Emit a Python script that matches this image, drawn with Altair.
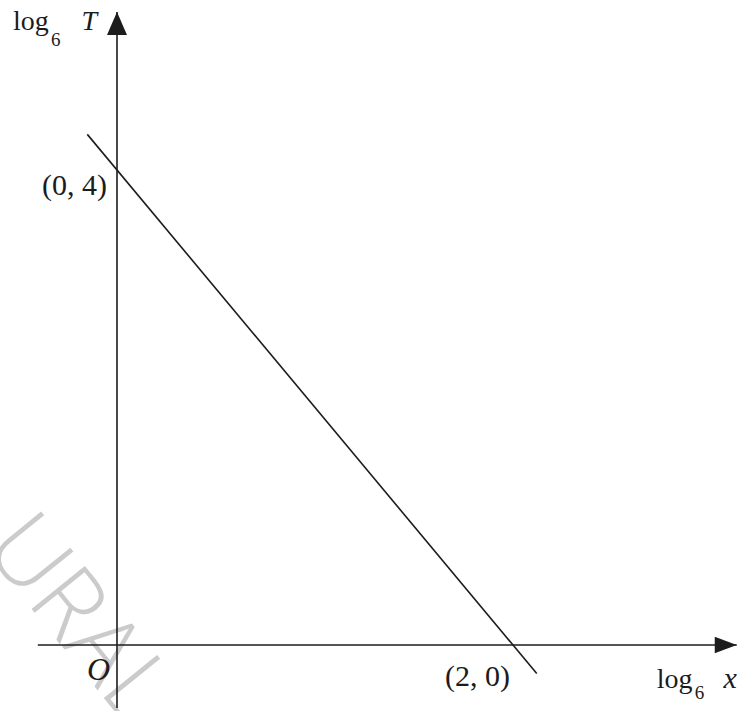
import altair as alt
import pandas as pd

# Straight line in the (log6 x, log6 T) plane
line_x = [-0.15, 2.12]
line_y = [4.30, -0.24]

# Axis intercepts marked on the graph
intercept_x = [0, 2]
intercept_y = [4, 0]
intercept_text = ["(0, 4)", "(2, 0)"]

# Extent of the drawn coordinate axes (shaft start, arrow tip)
x_axis_extent = [-0.40, 3.13]
y_axis_extent = [-0.53, 5.33]

INK = "#1c1c1c"
SERIF = "Liberation Serif"

xs = alt.Scale(domain=[-0.5909, 3.1566], nice=False, zero=False)
ys = alt.Scale(domain=[-0.5558, 5.4316], nice=False, zero=False)


def X(field="x"):
    return alt.X(f"{field}:Q", scale=xs, axis=None)


def Y(field="y"):
    return alt.Y(f"{field}:Q", scale=ys, axis=None)


line_df = pd.DataFrame({"x": line_x, "y": line_y})
xaxis_df = pd.DataFrame({"x": x_axis_extent, "y": [0, 0]})
yaxis_df = pd.DataFrame({"x": [0, 0], "y": y_axis_extent})
xtip_df = pd.DataFrame({"x": [x_axis_extent[1]], "y": [0]})
ytip_df = pd.DataFrame({"x": [0], "y": [y_axis_extent[1]]})
origin_df = pd.DataFrame({"x": [0], "y": [0], "t": ["O"]})
p04_df = pd.DataFrame({"x": [intercept_x[0]], "y": [intercept_y[0]], "t": [intercept_text[0]]})
p20_df = pd.DataFrame({"x": [intercept_x[1]], "y": [intercept_y[1]], "t": [intercept_text[1]]})

# faint diagonal watermark running off the left edge
watermark = alt.Chart(pd.DataFrame({"t": ["URAL"]})).mark_text(
    angle=51, fontSize=96, font="Open Sans", fontWeight=300,
    color="#cbcbcb", align="center", baseline="middle"
).encode(x=alt.value(78), y=alt.value(620), text="t:N")

x_axis = alt.Chart(xaxis_df).mark_line(color=INK, strokeWidth=1.6).encode(x=X(), y=Y())
y_axis = alt.Chart(yaxis_df).mark_line(color=INK, strokeWidth=1.6).encode(
    x=X(), y=Y(), order="y:Q")

x_arrow = alt.Chart(xtip_df).mark_point(
    shape="M0,0L-2,-0.75L-2,0.75Z", size=484, filled=True, opacity=1,
    color=INK, strokeWidth=0
).encode(x=X(), y=Y())
y_arrow = alt.Chart(ytip_df).mark_point(
    shape="M0,0L-0.87,2L0.87,2Z", size=529, filled=True, opacity=1,
    color=INK, strokeWidth=0
).encode(x=X(), y=Y())

graph = alt.Chart(line_df).mark_line(color=INK, strokeWidth=1.6).encode(x=X(), y=Y())


def label(df, **kw):
    base = dict(font=SERIF, color=INK)
    base.update(kw)
    return alt.Chart(df).mark_text(**base).encode(x=X(), y=Y(), text="t:N")


lab04 = label(p04_df, fontSize=30, align="right", baseline="middle", dx=-10, dy=16)
lab20 = label(p20_df, fontSize=30, align="right", baseline="middle", dx=-3, dy=32)
lab_o = label(origin_df, fontSize=32, fontStyle="italic", align="right",
              baseline="middle", dx=-7, dy=25)

# axis titles: log, subscript 6, italic variable
ytitle_df = pd.DataFrame({"x": [0], "y": [y_axis_extent[1]], "t": ["log"]})
ysub_df = ytitle_df.assign(t="6")
yvar_df = ytitle_df.assign(t="T")
xtitle_df = pd.DataFrame({"x": [x_axis_extent[1]], "y": [0], "t": ["log"]})
xsub_df = xtitle_df.assign(t="6")
xvar_df = xtitle_df.assign(t="x")

ylog = label(ytitle_df, fontSize=28, align="left", baseline="alphabetic", dx=-104, dy=18)
ysub = label(ysub_df, fontSize=19, align="left", baseline="alphabetic", dx=-66, dy=34)
yvar = label(yvar_df, fontSize=28, fontStyle="italic", align="right",
             baseline="alphabetic", dx=-20, dy=18)
xlog = label(xtitle_df, fontSize=28, align="left", baseline="alphabetic", dx=-80, dy=43)
xsub = label(xsub_df, fontSize=19, align="left", baseline="alphabetic", dx=-42, dy=54)
xvar = label(xvar_df, fontSize=30, fontStyle="italic", align="right",
             baseline="alphabetic", dx=0, dy=43)

chart = alt.layer(
    watermark, x_axis, y_axis, x_arrow, y_arrow, graph,
    lab04, lab20, lab_o, ylog, ysub, yvar, xlog, xsub, xvar
).properties(
    width=742, height=711, padding=0, autosize="none", background="white"
).configure_view(stroke=None)

chart.save("out.html", embed_options={"renderer": "svg", "actions": False})
